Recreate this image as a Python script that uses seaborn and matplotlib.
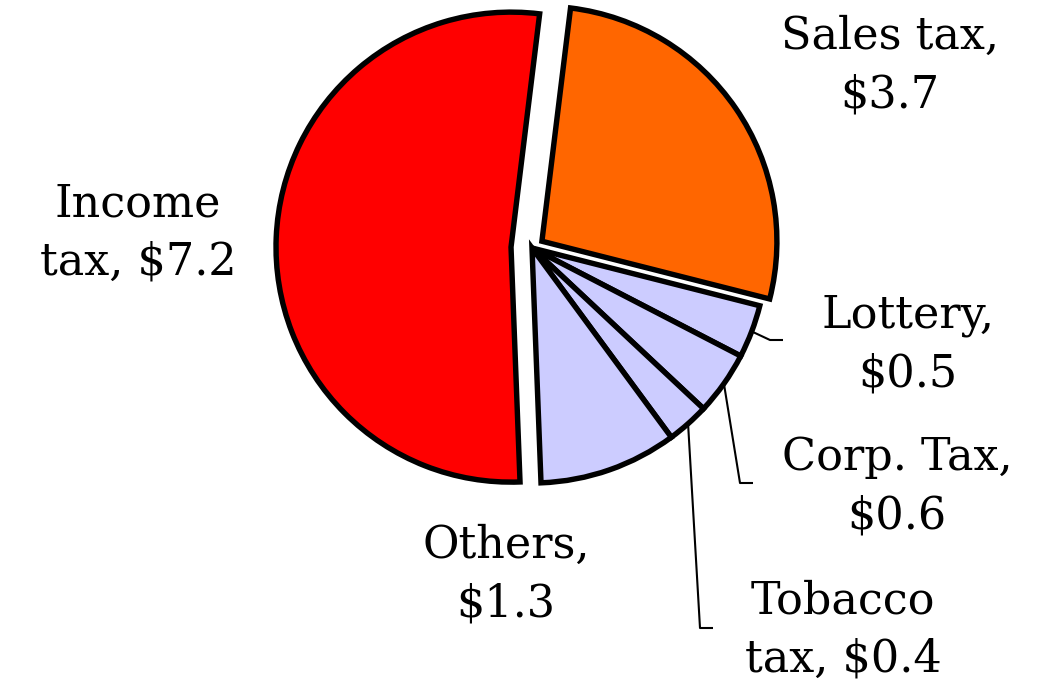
import numpy as np
import seaborn as sns
import matplotlib.pyplot as plt

# revenue by source (billions)
sources = ['Sales tax', 'Lottery', 'Corp. Tax', 'Tobacco\ntax', 'Others', 'Income\ntax']
amounts = [3.7, 0.5, 0.6, 0.4, 1.3, 7.2]
colors = ['#FF6600', '#CCCCFF', '#CCCCFF', '#CCCCFF', '#CCCCFF', '#FF0000']
explode = [12, 0, 0, 0, 0, 21]  # pixels (axes are in pixel units)

sns.set_style('white')
plt.rcParams['font.family'] = ['DejaVu Serif', 'DejaVu Sans']

W, H = 1045, 682
fig = plt.figure(figsize=(W / 100, H / 100), dpi=100)
ax = fig.add_axes([0, 0, 1, 1])

cx, cy, r = 532, H - 248, 235
wedges, _ = ax.pie(amounts, colors=colors, explode=explode, startangle=83,
                   counterclock=False, radius=r, center=(cx, cy), frame=True,
                   wedgeprops=dict(edgecolor='black', linewidth=3.9))
ax.set_xlim(0, W)
ax.set_ylim(0, H)
ax.set_aspect('equal')
ax.axis('off')

# label text positions (pixel coords from top-left)
label_pos = {
    'Sales tax': (890, 66),
    'Lottery': (908, 345),
    'Corp. Tax': (897, 487),
    'Tobacco\ntax': (843, 630),
    'Others': (506, 575),
    'Income\ntax': (138, 233),
}


def label_text(name, val):
    if name.endswith('\ntax'):
        return name.replace('\ntax', '\ntax, \\$%.1f' % val)
    return '%s,\n\\$%.1f' % (name, val)


for name, val in zip(sources, amounts):
    x, y = label_pos[name]
    ax.text(x, H - y, label_text(name, val), ha='center', va='center',
            multialignment='center', fontsize=32, linespacing=1.45, color='black')

# leader lines for the small slices: from the wedge rim to an elbow near the label
elbows = {'Lottery': ((770, 340), (783, 340)),
          'Corp. Tax': ((740, 483), (753, 483)),
          'Tobacco\ntax': ((700, 628), (713, 628))}
for w, name in zip(wedges, sources):
    if name not in elbows:
        continue
    ang = np.deg2rad((w.theta1 + w.theta2) / 2)
    x0 = w.center[0] + r * np.cos(ang)
    y0 = w.center[1] + r * np.sin(ang)
    (ex, ey), (tx, ty) = elbows[name]
    ax.plot([x0, ex, tx], [y0, H - ey, H - ty], color='black', lw=1.5,
            solid_capstyle='butt')

fig.savefig('out.png', dpi=100, facecolor='white')
